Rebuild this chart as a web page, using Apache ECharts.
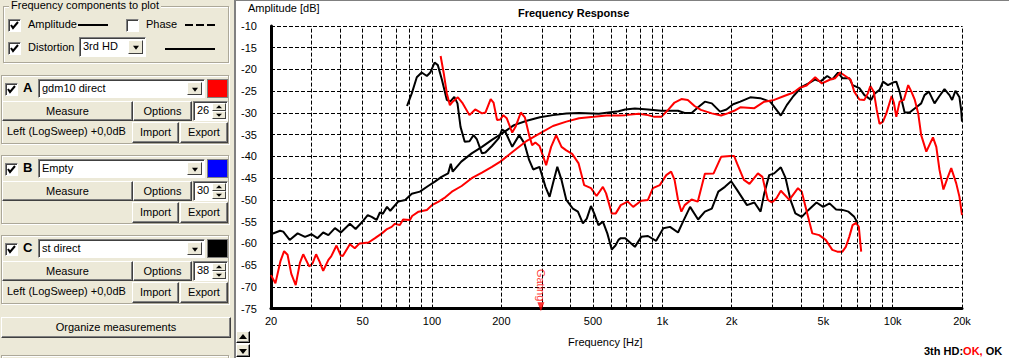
<!DOCTYPE html>
<html><head><meta charset="utf-8">
<script src="https://cdn.jsdelivr.net/npm/echarts@6/dist/echarts.min.js"></script>
<style>
html,body{margin:0;padding:0;background:#fff;width:1009px;height:358px;overflow:hidden;font-family:'Liberation Sans',Arial,sans-serif;font-size:11px;color:#000}
#chart{position:absolute;left:0;top:0;width:1009px;height:358px}
#panel{position:absolute;left:0;top:0;width:234px;height:358px;background:#ECE9D8;overflow:hidden;z-index:2}
.a{position:absolute;box-sizing:border-box;white-space:nowrap}
.grp{border:1px solid #ACA899;box-shadow:inset 1px 1px #fff,1px 1px #fff}
.btn{background:#ECE9D8;border:1px solid;border-color:#fff #404040 #404040 #fff;box-shadow:inset -1px -1px #808080;text-align:center}
.sunk{background:#fff;border:1px solid;border-color:#808080 #fff #fff #808080;box-shadow:inset 1px 1px #404040}
.chk{width:13px;height:13px}
.arr{position:absolute;right:2px;top:2px;bottom:2px;width:15px;background:#ECE9D8;border:1px solid;border-color:#fff #404040 #404040 #fff;box-sizing:border-box}
.tri{position:absolute;left:50%;top:50%;width:0;height:0;border-left:3.5px solid transparent;border-right:3.5px solid transparent;border-top:4px solid #000;transform:translate(-50%,-30%)}
.triu{position:absolute;left:50%;top:50%;width:0;height:0;border-left:3px solid transparent;border-right:3px solid transparent;border-bottom:3px solid #000;transform:translate(-50%,-60%)}
.trid{position:absolute;left:50%;top:50%;width:0;height:0;border-left:3px solid transparent;border-right:3px solid transparent;border-top:3px solid #000;transform:translate(-50%,-40%)}
</style></head>
<body>
<div id="chart"></div>
<div id="panel"></div>
<div class="a" style="left:234px;top:0;width:2px;height:358px;background:#808080;z-index:3"></div>
<div class="a" style="left:236px;top:0;width:773px;height:1px;background:#808080;z-index:3"></div>
<div class="a btn" style="left:236px;top:331px;width:14px;height:12px;z-index:3;border-color:#fff #000 #000 #fff"><div class="triu" style="border-left-width:4px;border-right-width:4px;border-bottom-width:5px"></div></div>
<div class="a btn" style="left:236px;top:344px;width:14px;height:13px;z-index:3;border-color:#fff #000 #000 #fff"><div class="trid" style="border-left-width:4px;border-right-width:4px;border-top-width:5px"></div></div>
<script>
// ---------------- data ----------------
const xGridValues = [30,40,50,60,70,80,90,100,200,300,400,500,600,700,800,900,1000,2000,3000,4000,5000,6000,7000,8000,9000,10000,20000];
const xLabelValues = [20,50,100,200,500,1000,2000,5000,10000,20000];

// A: gdm10 direct, amplitude (red)
const ampA_f = [20,20.9,22,22.8,23.6,24.5,25.6,26.7,27.6,29.3,30.3,31.4,32.5,33.7,35.5,36.5,38.5,40.2,41,44,46.2,48.5,53,56.6,60.6,63.8,66.8,69,72.5,74.9,80.2,82,87.4,95,100,106.8,114.2,122,134.5,148.7,164.8,182,198,227,258,294,335,383,435,504,573,645,690,790,866,925,990,1060,1130,1210,1290,1380,1470,1640,1800,1920,2050,2180,2510,2770,3060,3380,3710,3950,4230,4610,4930,5360,5630,5920,6230,6580,6810,7170,7540,7800,8000,8280,8530,8770,9080,9390,9900,10120,10370,10720,11180,11680,12060,12480,12910,13300,14000,14960,15470,15970,16610,17370,17960,18880,19500,20000];
const ampA_db = [-67.3,-69.2,-64,-61.8,-62.6,-67,-69.6,-64.5,-62.5,-65.3,-64.6,-62.5,-64.2,-66.3,-63.8,-63,-60.5,-62.8,-62.9,-60.2,-61.1,-60,-59.8,-58.8,-57.7,-56.7,-56.2,-55.5,-55.8,-54.5,-54.6,-53.7,-52.7,-52.3,-51.2,-50.4,-49.4,-48.1,-46.8,-45,-43.7,-42.4,-41.2,-38.7,-36.4,-34.7,-33,-32,-31.2,-30.9,-30.6,-30.6,-30.5,-30.2,-30.5,-30.9,-30.9,-29.3,-27.6,-26.8,-27,-28.4,-29.3,-30.1,-30.6,-30.1,-29.5,-28.7,-28.9,-27.4,-27,-26.1,-25.3,-24.2,-23.7,-21.8,-23.2,-22.3,-22,-20.7,-21.5,-22.4,-25.1,-26.9,-27,-25.5,-23.8,-25.1,-29.3,-32.5,-32,-30.1,-26.1,-27.6,-30.9,-27.4,-27,-23.6,-25.1,-27,-30.1,-35.1,-38.9,-35.6,-37.8,-43.1,-47.6,-44.7,-42.7,-46.2,-49.3,-53.5];

// C: st direct, amplitude (black)
const ampC_f = [20,21.9,22.6,24.1,26.1,28.1,30,31.8,33.7,35.5,37.9,40.2,44,46.6,49.5,52.6,54.7,57.5,59.4,61.2,63.8,65.9,71.3,76.5,81.7,88.6,96.2,102.9,110,117.5,120.7,123,134,148.7,164.8,182,201.6,227,258,294,335,383,435,530,645,690,760,866,990,1170,1250,1340,1430,1530,1640,1780,1900,2030,2180,2410,2660,2940,3090,3270,3470,3710,4030,4310,4610,4850,5200,5470,5790,6050,6480,6700,7170,7540,8060,8340,8770,9080,9540,10030,10370,10720,11270,11840,12660,13300,13750,14370,15200,15970,16790,17640,18120,18730,19500,19830,20000];
const ampC_db = [-57.9,-57.1,-57.3,-59.2,-57.7,-58.5,-57.9,-58.8,-57.5,-58.1,-56.5,-57.5,-55.5,-56.7,-55.2,-53.5,-53.9,-54.6,-52.9,-53.2,-51.6,-52.5,-50.4,-50,-48.6,-48.1,-46.8,-45.8,-44.7,-43.9,-41.7,-43.5,-41.2,-39.3,-37.8,-36.2,-34.7,-32.8,-31.8,-31,-30.5,-30.1,-30,-30.2,-29.6,-29.2,-29,-29.2,-29.5,-29.5,-30,-30,-28.7,-27.4,-27.8,-29.7,-29.2,-28,-27.4,-26.4,-26.6,-27.4,-28.9,-30.6,-28.2,-26.1,-24,-23.2,-22.3,-22.8,-21.5,-22.3,-20.7,-22,-22,-23.6,-24.3,-25.9,-27,-25.6,-24.7,-22.8,-23.6,-23,-22.8,-25.1,-29.9,-29.9,-28.7,-27.8,-25.9,-25.1,-27.8,-26.1,-24.5,-25.9,-27,-24.9,-26.4,-29.3,-32];

// A: gdm10 direct, 3rd HD (red)
const hdA_f = [109,112.4,116,119.6,123,129.5,136,145.4,154,164.8,170.6,179.8,185,191.5,198,204,211,223,230.5,243,253,264,272,281,293,313,329,346,365,383,406,433,458,490,518,552,570,603,628,660,708,747,810,866,910,975,1040,1092,1130,1170,1210,1250,1340,1425,1530,1670,1800,1975,2050,2110,2260,2390,2600,2720,2870,2990,3130,3270,3560,3880,4030,4220,4480,4800,5120,5470,5750,6050,6260,6480,6700,6940,7130,7300];
const hdA_db = [-16.9,-20.8,-25.5,-28.2,-27.4,-26.4,-27.8,-30.5,-29.2,-30.1,-29.9,-26.8,-27.6,-31.6,-31.5,-30.5,-31.2,-34.5,-33.2,-29.9,-31,-35.1,-37.4,-36.8,-37.6,-42,-37.8,-35.1,-37.8,-38.6,-39.4,-41.6,-46.6,-47.3,-49.1,-47,-48.5,-53.1,-53.1,-51.2,-50.4,-51.6,-50.2,-50,-47.3,-46.6,-44.3,-43.5,-45.4,-50,-52.7,-51.2,-49.9,-50.4,-44,-43.9,-40.1,-39.9,-39.9,-41.6,-45.4,-46.3,-43.9,-44.7,-50,-50.6,-49.6,-47.9,-50,-47.3,-48.1,-52.3,-57.7,-58.1,-59.2,-61.5,-61.9,-61.9,-60.8,-58.5,-55.8,-55.3,-56.2,-61.9];

// C: st direct, 3rd HD (black)
const hdC_f = [77.9,81.7,85.9,90.2,95,98.3,102.6,106,110.5,116,120,125,129,133,138.7,145.5,151.5,156.7,164.8,170.6,182,195,201.5,208,223,239,252,264,275,293,311,324,335,350,365,383,409,430,452,470,490,506,528,552,577,603,626,645,660,690,760,810,866,940,1010,1080,1170,1230,1320,1430,1530,1640,1750,1870,1990,2110,2330,2510,2670,2770,2910,3060,3270,3430,3600,3780,4030,4310,4670,4990,5320,5680,6060,6430,6810,7060];
const hdC_db = [-28.4,-25.5,-21.8,-20.7,-21.5,-20.7,-18.4,-19,-22.4,-27,-27.4,-26.3,-27.8,-33.2,-36.6,-36.5,-35.1,-36.1,-39.3,-39.1,-37.6,-35.8,-33.8,-34.3,-37.8,-35.1,-37,-40.8,-43,-42.4,-47,-49.3,-46.2,-42.4,-45.4,-50,-52,-52.7,-55.4,-54.3,-51.4,-53.1,-55.8,-55,-57.7,-61.4,-60.5,-59.2,-58.8,-58.8,-60.8,-58.5,-58.3,-59.4,-56.5,-56.2,-57.5,-55,-51.6,-54.5,-52.7,-52,-48.1,-47,-45.7,-47.7,-51.2,-50.6,-52.7,-48.5,-44.3,-43.9,-42.5,-45,-50,-53.1,-53.9,-52.3,-50.6,-51.6,-50.8,-52.2,-52.3,-52.7,-53.9,-55.4];

const gatingFreq = [297];
const gatingDb = [-74.6];

// ---------------- left panel (UI) ----------------
const measurements = [
  {letter:'A', name:'gdm10 direct', color:'#ff0000', num:'26', info:'Left (LogSweep) +0,0dB'},
  {letter:'B', name:'Empty', color:'#0000ff', num:'30', info:''},
  {letter:'C', name:'st direct', color:'#000000', num:'38', info:'Left (LogSweep) +0,0dB'}
];
const CHECK = '<svg width="11" height="11" style="position:absolute;left:0;top:0"><polyline points="2,5 4,8 9,2" fill="none" stroke="#000" stroke-width="2"/></svg>';
function chk(l,t,on){return `<div class="a sunk chk" style="left:${l}px;top:${t}px">${on?CHECK:''}</div>`;}
function combo(l,t,w,h,txt){return `<div class="a sunk" style="left:${l}px;top:${t}px;width:${w}px;height:${h}px;padding-left:3px;line-height:${h-3}px">${txt}<div class="arr"><div class="tri"></div></div></div>`;}
function btn(l,t,w,h,txt){return `<div class="a btn" style="left:${l}px;top:${t}px;width:${w}px;height:${h}px;line-height:${h-2}px">${txt}</div>`;}
function lbl(l,t,txt,extra){return `<div class="a" style="left:${l}px;top:${t}px;${extra||''}">${txt}</div>`;}
let html = '';
html += `<div class="a grp" style="left:3px;top:6px;width:226px;height:57px"></div>`;
html += lbl(9,-1,'Frequency components to plot','background:#ECE9D8;padding:0 2px');
html += chk(8,19,true) + lbl(28,18,'Amplitude');
html += `<div class="a" style="left:78px;top:24px;width:30px;height:2px;background:#000"></div>`;
html += chk(126,19,false) + lbl(146,18,'Phase');
html += `<div class="a" style="left:185px;top:24px;width:30px;height:2px;background:repeating-linear-gradient(90deg,#000 0 8px,transparent 8px 11px)"></div>`;
html += chk(8,42,true) + lbl(28,41,'Distortion');
html += combo(79,37,67,20,'3rd HD');
html += `<div class="a" style="left:165px;top:48px;width:50px;height:2px;background:#000"></div>`;
measurements.forEach((m,i)=>{
  const T = 75 + i*80;
  html += `<div class="a grp" style="left:1px;top:${T}px;width:228px;height:69px"></div>`;
  html += chk(5,T+8,true);
  html += lbl(23,T+5,m.letter,'font-weight:bold;font-size:13px');
  html += combo(38,T+4,167,19,m.name);
  html += `<div class="a" style="left:207px;top:${T+4}px;width:21px;height:19px;background:${m.color};border:1px solid #808080"></div>`;
  html += btn(2,T+26,131,20,'Measure');
  html += btn(133,T+26,59,20,'Options');
  html += `<div class="a sunk" style="left:193px;top:${T+26}px;width:35px;height:20px;padding-left:3px;line-height:17px">${m.num}`+
          `<div class="a btn" style="left:18px;top:1px;width:14px;height:8px;box-shadow:none"><div class="triu"></div></div>`+
          `<div class="a btn" style="left:18px;top:9px;width:14px;height:8px;box-shadow:none"><div class="trid"></div></div></div>`;
  if (m.info) html += lbl(7,T+50,m.info);
  html += btn(132,T+47,47,21,'Import');
  html += btn(180,T+47,48,21,'Export');
});
html += btn(1,317,230,21,'Organize measurements');
html += `<div class="a grp" style="left:1px;top:355px;width:228px;height:20px"></div>`;
document.getElementById('panel').innerHTML = html;

// ---------------- chart ----------------
const zip = (f,d) => f.map((v,i)=>[v,d[i]]);
const chart = echarts.init(document.getElementById('chart'), null, {renderer:'svg'});
const FONT = 'Liberation Sans';
const fmtHz = v => { const r = Math.round(v); return r >= 1000 ? (r/1000)+'k' : String(r); };
const dash = {color:'#000', width:1, type:[4,2]};
chart.setOption({
  animation:false,
  backgroundColor:'#fff',
  title:[
    {text:'Frequency Response', left:518, top:7, padding:0, textStyle:{fontFamily:FONT,fontSize:11,fontWeight:'bold',color:'#000'}},
    {text:'Amplitude [dB]', left:248, top:2, padding:0, textStyle:{fontFamily:FONT,fontSize:11,fontWeight:'normal',color:'#000'}},
    {text:'Frequency [Hz]', left:568, top:336, padding:0, textStyle:{fontFamily:FONT,fontSize:11,fontWeight:'normal',color:'#000'}},
    {text:'{a|3th HD:}{b|OK,}{a| OK}', left:924, top:345, padding:0, textStyle:{rich:{
      a:{fontFamily:FONT,fontSize:11,fontWeight:'bold',color:'#000'},
      b:{fontFamily:FONT,fontSize:11,fontWeight:'bold',color:'#ff0000'}}}}
  ],
  grid:{left:271, top:26, width:691, height:282.6, containLabel:false},
  xAxis:{
    type:'log', logBase:10, min:20, max:20000,
    axisLine:{onZero:false, lineStyle:{color:'#000', width:3}},
    axisTick:{show:false},
    splitLine:{show:false},
    axisLabel:{customValues:xLabelValues, formatter:fmtHz, margin:7, color:'#000', fontFamily:FONT, fontSize:11}
  },
  yAxis:{
    type:'value', min:-75, max:-10, interval:5,
    axisLine:{show:true, onZero:false, lineStyle:{color:'#000', width:3}},
    axisTick:{show:false},
    splitLine:{show:true, lineStyle:dash},
    axisLabel:{align:'left', margin:30, color:'#000', fontFamily:FONT, fontSize:11}
  },
  series:[
    {name:'grid', type:'line', data:[], z:1, silent:true,
      markLine:{silent:true, symbol:['none','none'], label:{show:false}, lineStyle:dash, emphasis:{disabled:true},
        data:xGridValues.map(v=>({xAxis:v}))}},
    {name:'st direct', type:'line', data:zip(ampC_f,ampC_db), showSymbol:false, z:3, lineStyle:{color:'#000',width:2}, itemStyle:{color:'#000'}},
    {name:'st direct 3rd HD', type:'line', data:zip(hdC_f,hdC_db), showSymbol:false, z:3, lineStyle:{color:'#000',width:2}, itemStyle:{color:'#000'}},
    {name:'gdm10 direct', type:'line', data:zip(ampA_f,ampA_db), showSymbol:false, z:3, lineStyle:{color:'#ff0000',width:2}, itemStyle:{color:'#ff0000'}},
    {name:'gdm10 direct 3rd HD', type:'line', data:zip(hdA_f,hdA_db), showSymbol:false, z:3, lineStyle:{color:'#ff0000',width:2}, itemStyle:{color:'#ff0000'}},
    {name:'Gating', type:'scatter', data:zip(gatingFreq,gatingDb), symbol:'triangle', symbolRotate:180, symbolSize:[7,9], clip:false, z:6,
      itemStyle:{color:'#ff0000'},
      label:{show:true, formatter:'Gating', position:'top', distance:1, rotate:-90, align:'right', verticalAlign:'middle', color:'#ff0000', fontFamily:FONT, fontSize:11}}
  ]
});
</script>
</body></html>
